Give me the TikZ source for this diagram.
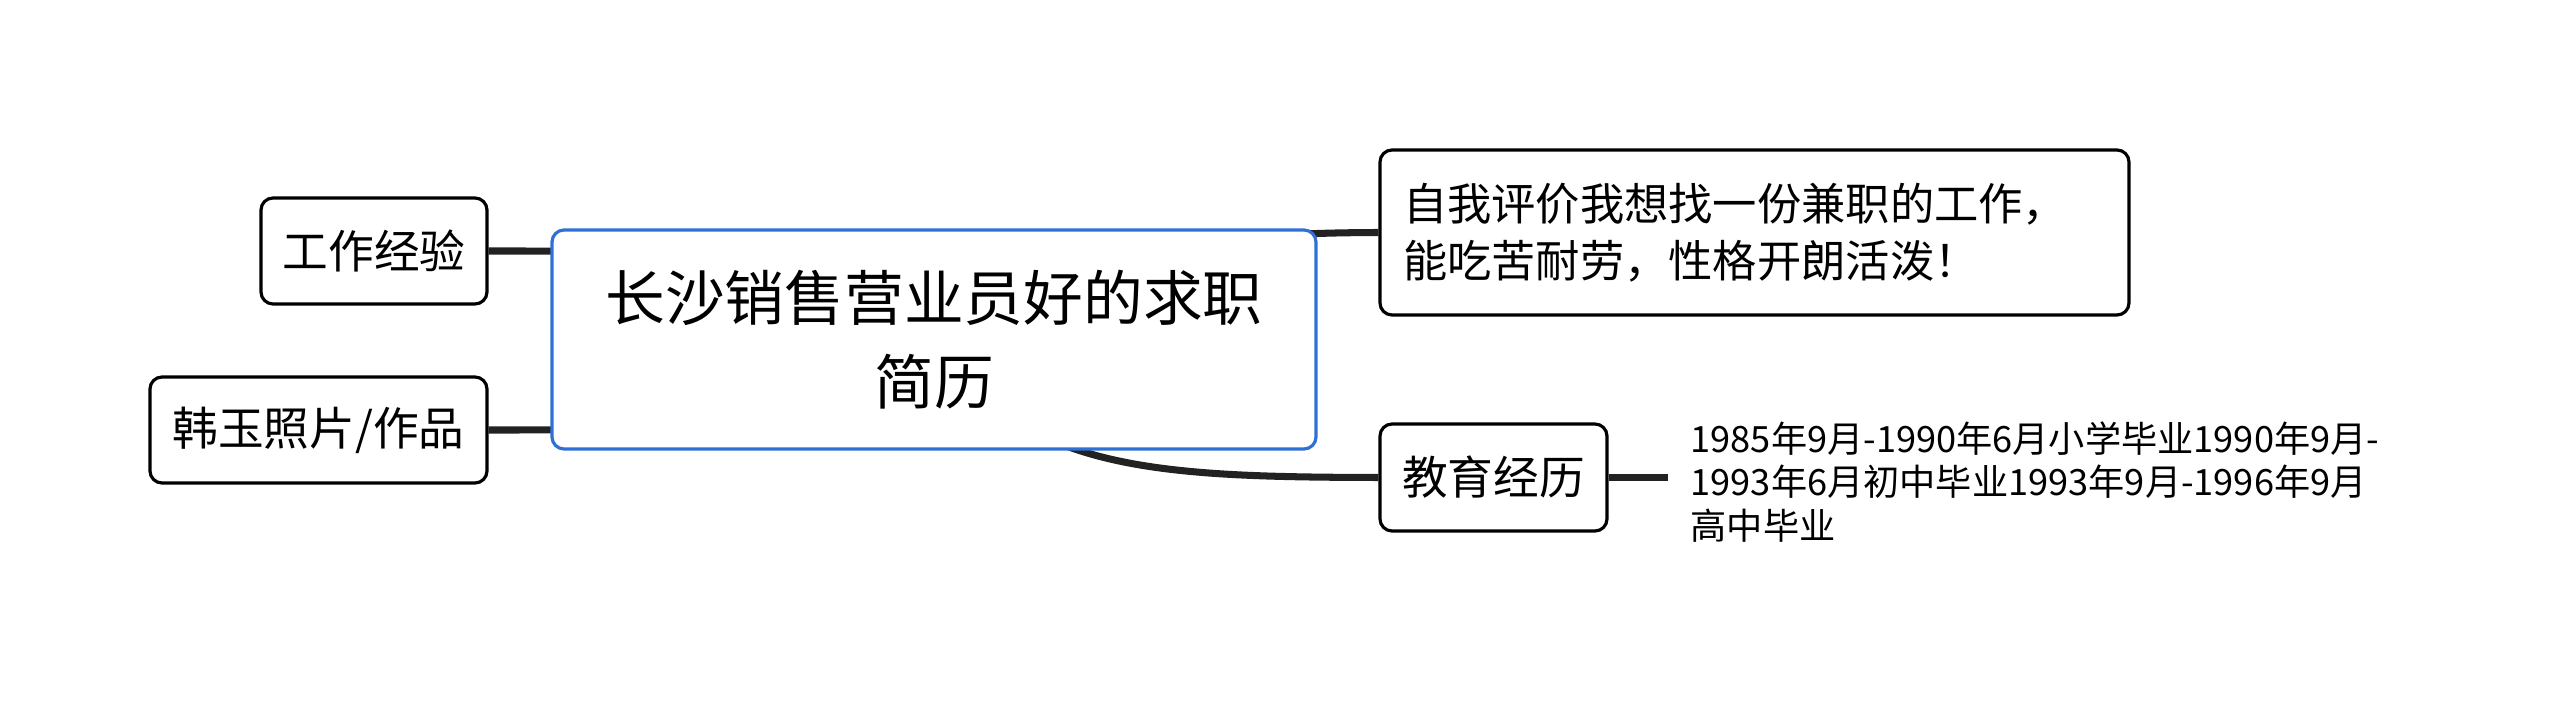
\documentclass[tikz,border=0pt]{standalone}
\usepackage{fontspec}
\setmainfont{Noto Sans CJK SC}
\usetikzlibrary{backgrounds}
\definecolor{topicblue}{RGB}{46,112,214}
\definecolor{linegray}{RGB}{34,34,34}
\tikzset{branch/.style={linegray, line width=2pt},
  topic/.style={draw=topicblue, line width=0.9pt, rounded corners=1.2mm, fill=white, align=center, font=\fontsize{17}{24}\selectfont},
  subtopic/.style={draw=black, line width=0.9pt, rounded corners=1.2mm, fill=white, inner sep=0pt, font=\fontsize{13}{16}\selectfont}}

\begin{document}
\begin{tikzpicture}[x=0.1mm,y=-0.1mm]
  \useasboundingbox (0,0) rectangle (2560,713);
  \node[topic, minimum width=76.4mm, minimum height=21.9mm] (resume) at (934,339.5)
    {长沙销售营业员好的求职\\简历};
  \node[subtopic, minimum width=22.6mm, minimum height=10.6mm] (work) at (374,251) {工作经验};
  \node[subtopic, minimum width=33.7mm, minimum height=10.6mm] (photo) at (318.5,430) {韩玉照片/作品};
  \node[subtopic, text width=70.3mm, inner xsep=2.3mm, minimum height=16.5mm, align=left,
    font=\fontsize{12.6}{16.2}\selectfont] (self) at (1754.5,232.5)
    {自我评价我想找一份兼职的工作，\\能吃苦耐劳，性格开朗活泼！};
  \node[subtopic, minimum width=22.7mm, minimum height=10.7mm] (edu) at (1493.5,477.5) {教育经历};
  \node[anchor=west, align=left, inner xsep=2.2mm, inner ysep=0pt, font=\fontsize{10.3}{12.5}\selectfont]
    (edutext) at (1668,482)
    {1985年9月-1990年6月小学毕业1990年9月-\\1993年6月初中毕业1993年9月-1996年9月\\高中毕业};
  \begin{scope}[on background layer]
   \draw[branch] (resume.center) .. controls (800,251) and (700,251) .. (work.east);
   \draw[branch] (resume.center) .. controls (800,430) and (700,430) .. (photo.east);
   \draw[branch] (resume.center) .. controls (1100,240) and (1250,233) .. (self.west);
   \draw[branch] (resume.center) .. controls (1020,470) and (1150,477) .. (edu.west);
   \draw[branch] (edu.east) -- (edu.east -| edutext.west);
  \end{scope}
\end{tikzpicture}
\end{document}
